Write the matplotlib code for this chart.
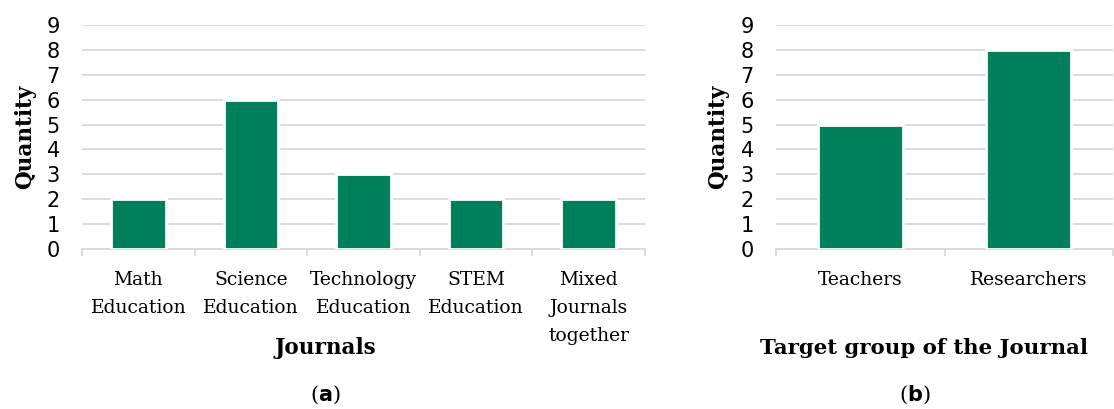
import numpy as np
import matplotlib
matplotlib.use("Agg")
import matplotlib.pyplot as plt

# Data
journals = ["Math\nEducation", "Science\nEducation", "Technology\nEducation",
            "STEM\nEducation", "Mixed\nJournals\ntogether"]
journal_counts = [2, 6, 3, 2, 2]

target_groups = ["Teachers", "Researchers"]
target_counts = [5, 8]

bar_color = "#00805A"
grid_color = "#D9D9D9"
W, H = 1114, 409

fig = plt.figure(figsize=(W / 100, H / 100), dpi=100)


def make_axes(x0, x1, y_top, y_bot):
    return fig.add_axes([x0 / W, 1 - y_bot / H, (x1 - x0) / W, (y_bot - y_top) / H])


def style_axes(ax, labels, values, bar_width, ylabel):
    n = len(labels)
    pos = np.arange(n)
    ax.set_axisbelow(True)
    ax.yaxis.grid(True, color=grid_color, linewidth=1.3)
    ax.bar(pos, values, width=bar_width, color=bar_color, edgecolor="white",
           linewidth=2, zorder=3)
    ax.set_xlim(-0.5, n - 0.5)
    ax.set_ylim(0, 9)
    ax.set_yticks(range(10))
    for s in ["top", "right", "left"]:
        ax.spines[s].set_visible(False)
    ax.spines["bottom"].set_color(grid_color)
    ax.spines["bottom"].set_linewidth(1.3)
    ax.tick_params(axis="y", length=0, pad=16, labelsize=15)
    # boundary tick marks + centered category labels
    ax.set_xticks(np.arange(n + 1) - 0.5)
    ax.set_xticklabels([])
    ax.tick_params(axis="x", which="major", length=5, color=grid_color, width=1.3)
    ax.set_xticks(pos, minor=True)
    ax.set_xticklabels(labels, minor=True, fontfamily="DejaVu Serif", fontsize=13.5,
                       linespacing=1.7, va="top")
    ax.tick_params(axis="x", which="minor", length=0, pad=16)
    ax.set_ylabel(ylabel, fontfamily="DejaVu Serif", fontweight="bold", fontsize=15.5)
    return ax


ax1 = make_axes(82, 645, 25, 249)
style_axes(ax1, journals, journal_counts, 0.485, "Quantity")
ax1.yaxis.set_label_coords(-0.082, 0.5)

ax2 = make_axes(776, 1113, 25, 249)
style_axes(ax2, target_groups, target_counts, 0.505, "Quantity")
ax2.yaxis.set_label_coords(-0.139, 0.5)

fig.text(325 / W, 1 - 348 / H, "Journals", ha="center", va="center",
         fontfamily="DejaVu Serif", fontweight="bold", fontsize=15.5)
fig.text(924 / W, 1 - 348 / H, "Target group of the Journal", ha="center", va="center",
         fontfamily="DejaVu Serif", fontweight="bold", fontsize=15.3)
fig.text(325 / W, 1 - 395 / H, r"($\mathbf{a}$)", ha="center", va="center",
         fontfamily="DejaVu Serif", fontsize=15)
fig.text(915 / W, 1 - 395 / H, r"($\mathbf{b}$)", ha="center", va="center",
         fontfamily="DejaVu Serif", fontsize=15)

fig.savefig("out.png", dpi=100, facecolor="white")
